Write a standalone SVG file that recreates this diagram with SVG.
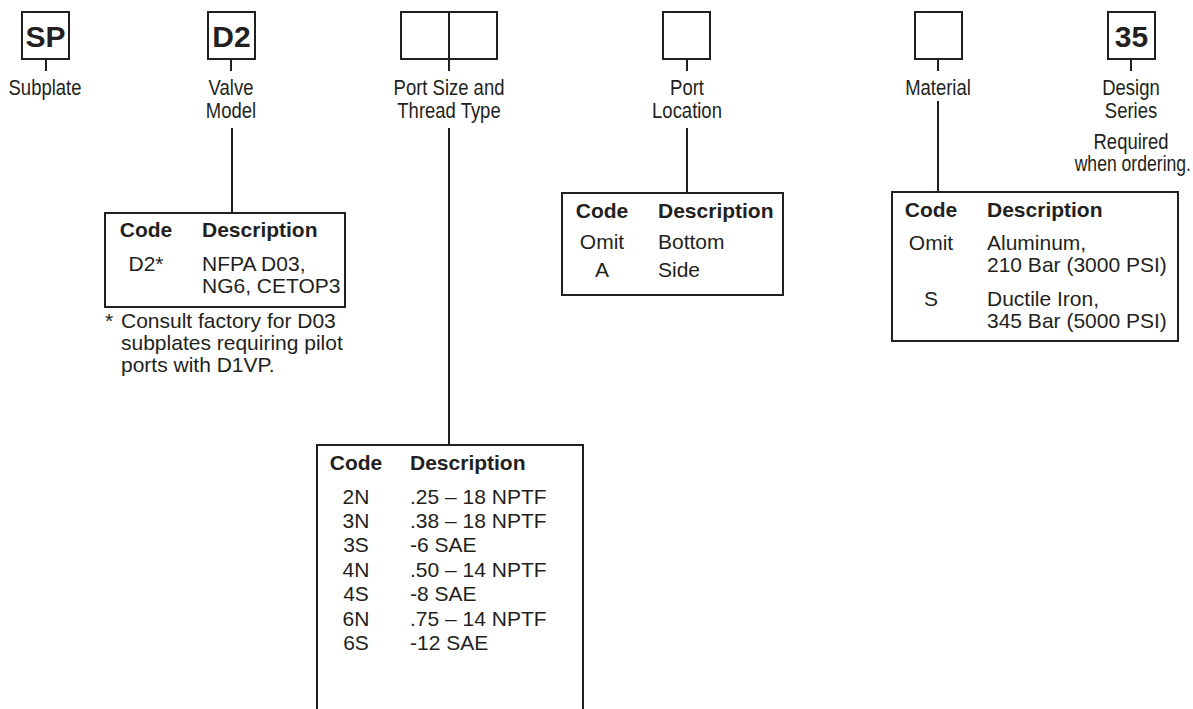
<svg xmlns="http://www.w3.org/2000/svg" width="1193" height="709" viewBox="0 0 1193 709">
<style>
.box{fill:none;stroke:#231f20;stroke-width:2}
.tbl{fill:#fff;stroke:#231f20;stroke-width:2}
.ln{stroke:#231f20;stroke-width:2;fill:none}
.big{font-family:"Liberation Sans",Arial,sans-serif;font-weight:bold;font-size:30px;fill:#231f20;text-anchor:middle}
.lbl{font-family:"Liberation Sans",Arial,sans-serif;font-size:22px;fill:#231f20;text-anchor:middle}
.hd{font-family:"Liberation Sans",Arial,sans-serif;font-weight:bold;font-size:21px;fill:#231f20}
.tx{font-family:"Liberation Sans",Arial,sans-serif;font-size:21px;fill:#231f20}
.c{text-anchor:middle}
</style>
<rect width="1193" height="709" fill="#fff"/>
<g id="connectors">
<line class="ln" x1="46" y1="59" x2="46" y2="71"/>
<line class="ln" x1="231" y1="59" x2="231" y2="71"/>
<line class="ln" x1="232" y1="128" x2="232" y2="213"/>
<line class="ln" x1="449" y1="59" x2="449" y2="71"/>
<line class="ln" x1="449" y1="128" x2="449" y2="445"/>
<line class="ln" x1="687" y1="59" x2="687" y2="71"/>
<line class="ln" x1="687" y1="128" x2="687" y2="193"/>
<line class="ln" x1="938" y1="59" x2="938" y2="71"/>
<line class="ln" x1="938" y1="101" x2="938" y2="192"/>
<line class="ln" x1="1131" y1="59" x2="1131" y2="71"/>
</g>
<g id="node-sp">
<rect class="box" x="22" y="12" width="47" height="47"/>
<text class="big" x="45.5" y="47">SP</text>
<text class="lbl" transform="translate(45,95) scale(0.84,1)">Subplate</text>
</g>
<g id="node-d2">
<rect class="box" x="208" y="12" width="47" height="47"/>
<text class="big" x="231.5" y="47">D2</text>
<text class="lbl" transform="translate(231,95) scale(0.84,1)">Valve</text>
<text class="lbl" transform="translate(231,118) scale(0.84,1)">Model</text>
</g>
<g id="node-portsize">
<rect class="box" x="401" y="12" width="96" height="47"/>
<line class="ln" x1="449" y1="12" x2="449" y2="59"/>
<text class="lbl" transform="translate(449,95) scale(0.84,1)">Port Size and</text>
<text class="lbl" transform="translate(449,118) scale(0.84,1)">Thread Type</text>
</g>
<g id="node-portloc">
<rect class="box" x="663" y="12" width="47" height="47"/>
<text class="lbl" transform="translate(687,95) scale(0.84,1)">Port</text>
<text class="lbl" transform="translate(687,118) scale(0.84,1)">Location</text>
</g>
<g id="node-material">
<rect class="box" x="915" y="12" width="47" height="47"/>
<text class="lbl" transform="translate(938,95) scale(0.84,1)">Material</text>
</g>
<g id="node-35">
<rect class="box" x="1108" y="12" width="47" height="47"/>
<text class="big" x="1131.5" y="47">35</text>
<text class="lbl" transform="translate(1131,95) scale(0.84,1)">Design</text>
<text class="lbl" transform="translate(1131,118) scale(0.84,1)">Series</text>
<text class="lbl" transform="translate(1131,149) scale(0.84,1)">Required</text>
<text class="lbl" style="text-anchor:end" transform="translate(1191,171) scale(0.8,1)">when ordering.</text>
</g>
<g id="table-d2">
<rect class="tbl" x="105" y="213" width="240" height="94"/>
<text class="hd c" x="146" y="237">Code</text>
<text class="hd" x="202" y="237">Description</text>
<text class="tx c" x="146" y="271">D2*</text>
<text class="tx" x="202" y="271">NFPA D03,</text>
<text class="tx" x="202" y="293">NG6, CETOP3</text>
<text class="tx" x="105" y="328">*</text>
<text class="tx" x="121" y="328">Consult factory for D03</text>
<text class="tx" x="121" y="350">subplates requiring pilot</text>
<text class="tx" x="121" y="372">ports with D1VP.</text>
</g>
<g id="table-portloc">
<rect class="tbl" x="562" y="193" width="221" height="102"/>
<text class="hd c" x="602" y="218">Code</text>
<text class="hd" x="658" y="218">Description</text>
<text class="tx c" x="602" y="249">Omit</text>
<text class="tx" x="658" y="249">Bottom</text>
<text class="tx c" x="602" y="277">A</text>
<text class="tx" x="658" y="277">Side</text>
</g>
<g id="table-material">
<rect class="tbl" x="892" y="192" width="286" height="149"/>
<text class="hd c" x="931" y="217">Code</text>
<text class="hd" x="987" y="217">Description</text>
<text class="tx c" x="931" y="250">Omit</text>
<text class="tx" x="987" y="250">Aluminum,</text>
<text class="tx" x="987" y="272">210 Bar (3000 PSI)</text>
<text class="tx c" x="931" y="306">S</text>
<text class="tx" x="987" y="306">Ductile Iron,</text>
<text class="tx" x="987" y="328">345 Bar (5000 PSI)</text>
</g>
<g id="table-portsize">
<rect class="tbl" x="317" y="445" width="266" height="270"/>
<text class="hd c" x="356" y="470">Code</text>
<text class="hd" x="410" y="470">Description</text>
<text class="tx c" x="356" y="504">2N</text>
<text class="tx" x="410" y="504">.25 – 18 NPTF</text>
<text class="tx c" x="356" y="528">3N</text>
<text class="tx" x="410" y="528">.38 – 18 NPTF</text>
<text class="tx c" x="356" y="552">3S</text>
<text class="tx" x="410" y="552">-6 SAE</text>
<text class="tx c" x="356" y="577">4N</text>
<text class="tx" x="410" y="577">.50 – 14 NPTF</text>
<text class="tx c" x="356" y="601">4S</text>
<text class="tx" x="410" y="601">-8 SAE</text>
<text class="tx c" x="356" y="626">6N</text>
<text class="tx" x="410" y="626">.75 – 14 NPTF</text>
<text class="tx c" x="356" y="650">6S</text>
<text class="tx" x="410" y="650">-12 SAE</text>
</g>
</svg>
